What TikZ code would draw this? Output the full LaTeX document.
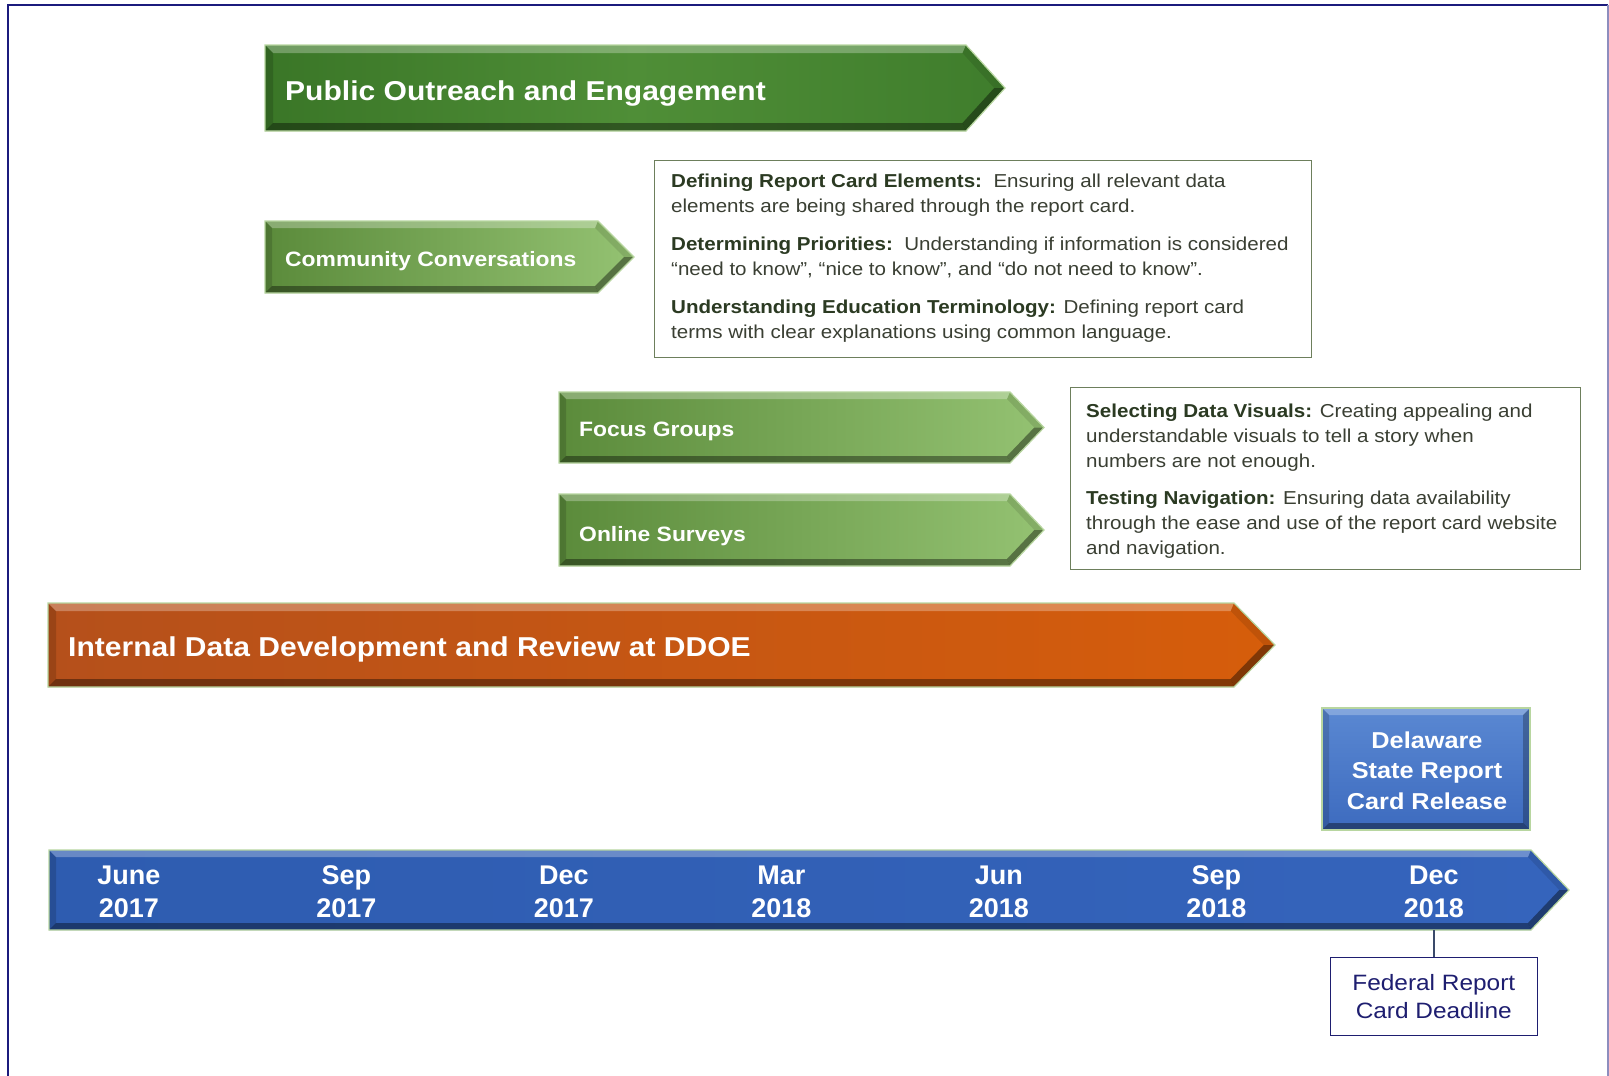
\documentclass[tikz,border=0pt]{standalone}
\usepackage{fontspec}
\setmainfont{Liberation Sans}[FakeStretch=1.1]
\newfontfamily\tlfont{Liberation Sans}
\definecolor{frameC}{HTML}{1B1B7D}
\definecolor{pubL}{HTML}{3A7627}
\definecolor{pubM}{HTML}{4F8E37}
\definecolor{pubR}{HTML}{3F7D2C}
\definecolor{lgL}{HTML}{5B8B3B}
\definecolor{lgR}{HTML}{94C272}
\definecolor{orL}{HTML}{B5501B}
\definecolor{orR}{HTML}{D65D0B}
\definecolor{blL}{HTML}{2E5CB0}
\definecolor{blR}{HTML}{3564BC}
\definecolor{delT}{HTML}{5A88D2}
\definecolor{delB}{HTML}{3D6BBF}
\definecolor{glow}{HTML}{B8D6A0}
\definecolor{boxC}{HTML}{6D7F5C}
\definecolor{boxT}{HTML}{3A3F33}
\definecolor{boxB}{HTML}{2B3A22}
\definecolor{fedC}{HTML}{1E1E70}
\definecolor{connC}{HTML}{3A4A6A}

% bevelled arrow: x0, body end, tip, top, bottom, bevel, shading, outline
\newcommand{\bevarrow}[8]{%
 \pgfmathsetmacro\bvym{(#4+#5)/2}%
 \pgfmathsetmacro\bvL{#3-#2}%
 \pgfmathsetmacro\bvH{\bvym-#4}%
 \pgfmathsetmacro\bvs{#6*sqrt(\bvL*\bvL+\bvH*\bvH)/\bvH}%
 \pgfmathsetmacro\bvxb{#2-\bvs+\bvL*#6/\bvH}%
 \pgfmathsetmacro\bvxt{#3-\bvs}%
 \pgfmathsetmacro\bvxa{#1+#6}%
 \pgfmathsetmacro\bvya{#4+#6}%
 \pgfmathsetmacro\bvyd{#5-#6}%
 \path[#7] (#1,#4) -- (#2,#4) -- (#3,\bvym) -- (#2,#5) -- (#1,#5) -- cycle;
 \fill[white, opacity=.28] (#1,#4) -- (#2,#4) -- (\bvxb,\bvya) -- (\bvxa,\bvya) -- cycle;
 \fill[black, opacity=.38] (#1,#5) -- (#2,#5) -- (\bvxb,\bvyd) -- (\bvxa,\bvyd) -- cycle;
 \fill[black, opacity=.10] (#2,#4) -- (#3,\bvym) -- (\bvxt,\bvym) -- (\bvxb,\bvya) -- cycle;
 \fill[black, opacity=.40] (#2,#5) -- (#3,\bvym) -- (\bvxt,\bvym) -- (\bvxb,\bvyd) -- cycle;
 \fill[black, opacity=.15] (#1,#4) -- (\bvxa,\bvya) -- (\bvxa,\bvyd) -- (#1,#5) -- cycle;
 \draw[#8, line width=1.2] (#1,#4) -- (#2,#4) -- (#3,\bvym) -- (#2,#5) -- (#1,#5) -- cycle;
}
% bevelled rectangle: x0, x1, y0, y1, bevel, shading, outline
\newcommand{\bevrect}[7]{%
 \path[#6] (#1,#3) rectangle (#2,#4);
 \fill[white, opacity=.25] (#1,#3) -- (#2,#3) -- ([xshift=-#5pt,yshift=-#5pt]#2,#3) -- ([xshift=#5pt,yshift=-#5pt]#1,#3) -- cycle;
 \fill[black, opacity=.38] (#1,#4) -- (#2,#4) -- ([xshift=-#5pt,yshift=#5pt]#2,#4) -- ([xshift=#5pt,yshift=#5pt]#1,#4) -- cycle;
 \fill[black, opacity=.15] (#1,#3) -- ([xshift=#5pt,yshift=-#5pt]#1,#3) -- ([xshift=#5pt,yshift=#5pt]#1,#4) -- (#1,#4) -- cycle;
 \fill[black, opacity=.25] (#2,#3) -- ([xshift=-#5pt,yshift=-#5pt]#2,#3) -- ([xshift=-#5pt,yshift=#5pt]#2,#4) -- (#2,#4) -- cycle;
 \draw[#7, line width=1.2] (#1,#3) rectangle (#2,#4);
}

\begin{document}
\begin{tikzpicture}[x=1pt,y=-1pt,
  bigtxt/.style={anchor=base west, text=white, inner sep=0, font=\bfseries\fontsize{27.3}{33}\selectfont},
  midtxt/.style={anchor=base west, text=white, inner sep=0, font=\bfseries\fontsize{20.8}{25}\selectfont},
  tltxt/.style={anchor=base, align=center, text=white, inner sep=0, font=\tlfont\bfseries\fontsize{27}{32.5}\selectfont},
  infotxt/.style={anchor=north west, align=left, inner sep=0, text=boxT, font=\fontsize{18.7}{25}\selectfont},
  infobox/.style={draw=boxC, line width=1.2, fill=white, inner sep=0, anchor=north west},
  deltxt/.style={anchor=base, align=center, text=white, inner sep=0, font=\bfseries\fontsize{23}{30.5}\selectfont},
  fedbox/.style={draw=fedC, line width=1.3, fill=white, align=center, text=fedC, inner sep=0,
     minimum width=207, minimum height=78, font=\fontsize{22.2}{28}\selectfont},
  conn/.style={draw=connC, line width=1.4}
]
\useasboundingbox (0,0) rectangle (1609,1076);
\fill[white] (0,0) rectangle (1609,1076);
% frame
\draw[frameC, line width=2.2] (8,1076) -- (8,5) -- (1608,5);
\draw[frameC!50, line width=1.5] (1608,5) -- (1608,1076);

% Public outreach
\bevarrow{265}{966}{1005}{45}{131}{8}{left color=pubL, right color=pubR, middle color=pubM}{glow}
\node[bigtxt] (pub) at (285,100) {Public Outreach and Engagement};

% Community conversations
\bevarrow{265}{598}{634}{221}{293}{7}{left color=lgL, right color=lgR}{glow}
\node[midtxt] (cc) at (285,266) {Community Conversations};

% Info box 1
\node[infobox, minimum width=657, minimum height=197] (box1) at (654,160) {};
\node[infotxt] (box1txt) at (671,174) {%
\textcolor{boxB}{\textbf{Defining Report Card Elements:}}\ \ Ensuring all relevant data\\
elements are being shared through the report card.\\[13pt]
\textcolor{boxB}{\textbf{Determining Priorities:}}\ \ Understanding if information is considered\\
“need to know”, “nice to know”, and “do not need to know”.\\[13pt]
\textcolor{boxB}{\textbf{Understanding Education Terminology:}} Defining report card\\
terms with clear explanations using common language.};

% Focus groups & online surveys
\bevarrow{559}{1010}{1044}{392}{463}{7}{left color=lgL, right color=lgR}{glow}
\node[midtxt] (fg) at (579,436) {Focus Groups};
\bevarrow{559}{1010}{1044}{494}{566}{7}{left color=lgL, right color=lgR}{glow}
\node[midtxt] (os) at (579,541) {Online Surveys};

% Info box 2
\node[infobox, minimum width=510, minimum height=182] (box2) at (1070,387) {};
\node[infotxt] (box2txt) at (1086,403.5) {%
\textcolor{boxB}{\textbf{Selecting Data Visuals:}} Creating appealing and\\
understandable visuals to tell a story when\\
numbers are not enough.\\[12pt]
\textcolor{boxB}{\textbf{Testing Navigation:}} Ensuring data availability\\
through the ease and use of the report card website\\
and navigation.};

% Internal data development
\bevarrow{48}{1234}{1275}{603}{687}{8}{left color=orL, right color=orR}{glow}
\node[bigtxt] (idd) at (68,656) {Internal Data Development and Review at DDOE};

% Delaware release box
\bevrect{1322}{1530}{708}{830}{7}{top color=delT, bottom color=delB}{glow}
\node[deltxt] (del) at (1427,809) {Delaware\\State Report\\Card Release};

% Timeline
\bevarrow{49}{1531}{1569}{850}{930}{7}{left color=blL, right color=blR}{glow}
\node[tltxt] (t1) at (128.8,917) {June\\2017};
\node[tltxt] (t2) at (346.3,917) {Sep\\2017};
\node[tltxt] (t3) at (563.8,917) {Dec\\2017};
\node[tltxt] (t4) at (781.3,917) {Mar\\2018};
\node[tltxt] (t5) at (998.8,917) {Jun\\2018};
\node[tltxt] (t6) at (1216.3,917) {Sep\\2018};
\node[tltxt] (t7) at (1433.8,917) {Dec\\2018};

% Federal deadline
\coordinate (decbar) at (1433.8,930);
\node[fedbox] (fed) at (1433.8,996.5) {Federal Report\\Card Deadline};
\draw[conn] (decbar) -- (fed.north);
\end{tikzpicture}
\end{document}
